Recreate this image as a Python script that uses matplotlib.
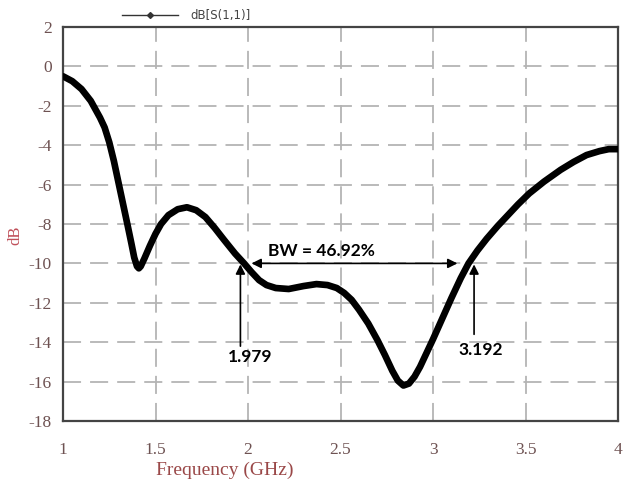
import matplotlib
matplotlib.use("Agg")
import matplotlib.pyplot as plt
from matplotlib.lines import Line2D

plt.rcParams["axes.unicode_minus"] = False

# Data
freq = [1.00, 1.05, 1.10, 1.15, 1.20, 1.225, 1.25, 1.275, 1.30, 1.325, 1.35, 1.37,
        1.385, 1.40, 1.41, 1.42, 1.44, 1.47, 1.50, 1.53, 1.57, 1.62, 1.67, 1.72,
        1.77, 1.82, 1.87, 1.93, 1.979, 2.02, 2.06, 2.10, 2.15, 2.22, 2.30, 2.37,
        2.43, 2.48, 2.52, 2.56, 2.60, 2.65, 2.70, 2.74, 2.78, 2.81, 2.84, 2.87,
        2.90, 2.93, 2.96, 3.00, 3.05, 3.10, 3.15, 3.192, 3.24, 3.29, 3.35, 3.40,
        3.46, 3.52, 3.60, 3.69, 3.76, 3.83, 3.90, 3.95, 4.00]
s11_db = [-0.5, -0.75, -1.15, -1.75, -2.6, -3.1, -3.85, -4.8, -5.9, -7.0, -8.1, -9.0,
          -9.7, -10.15, -10.25, -10.15, -9.75, -9.1, -8.5, -8.0, -7.55, -7.25, -7.15, -7.3,
          -7.65, -8.2, -8.8, -9.5, -10.0, -10.45, -10.85, -11.1, -11.25, -11.3, -11.15, -11.05,
          -11.1, -11.25, -11.5, -11.85, -12.35, -13.05, -13.9, -14.65, -15.45, -15.95, -16.2, -16.1,
          -15.75, -15.25, -14.65, -13.85, -12.8, -11.75, -10.75, -10.0, -9.35, -8.75, -8.1, -7.6,
          -7.0, -6.45, -5.85, -5.25, -4.85, -4.5, -4.3, -4.2, -4.2]

x_ticks = [1, 1.5, 2, 2.5, 3, 3.5, 4]
x_ticklabels = ["1", "1.5", "2", "2.5", "3", "3.5", "4"]
y_ticks = [2, 0, -2, -4, -6, -8, -10, -12, -14, -16, -18]
f_low, f_high = 1.979, 3.192
level = -10
bw_text = "BW = 46.92%"

fig = plt.figure(figsize=(6.24, 4.84), dpi=100)
ax = fig.add_axes([63/624, 1-421/484, (618-63)/624, (421-27)/484])
ax.set_xlim(1, 4)
ax.set_ylim(-18, 2)

grid_kw = dict(color="#b4b4b4", lw=1.3, dashes=(10, 5), zorder=1)
for yv in y_ticks[1:-1]:
    ax.axhline(yv, **grid_kw)
for xv in x_ticks[1:-1]:
    ax.axvline(xv, **grid_kw)

ax.plot(freq, s11_db, color="black", lw=4.8, solid_joinstyle="round",
        solid_capstyle="round", zorder=3)

for sp in ax.spines.values():
    sp.set_color("#444444")
    sp.set_linewidth(1.6)

ax.set_xticks(x_ticks)
ax.set_xticklabels(x_ticklabels)
ax.set_yticks(y_ticks)
ax.tick_params(length=0, pad=8, labelsize=12.5, labelcolor="#6e5252")
for lab in ax.get_xticklabels() + ax.get_yticklabels():
    lab.set_family("Liberation Serif")
ax.tick_params(axis="x", pad=15)

fig.text(225/624, 1-470/484, "Frequency (GHz)", ha="center", va="center",
         family="Liberation Serif", fontsize=14, color="#9a4848")
fig.text(15/624, 1-235/484, "dB", rotation=90, ha="center", va="center",
         family="Liberation Serif", fontsize=12, color="#c0505a")

# annotations
ann_font = dict(family="Lato", fontweight="bold", fontsize=12.5, color="black")
ax.annotate("", xy=(f_low + 0.04, level), xytext=(f_high - 0.06, level),
            arrowprops=dict(arrowstyle="<|-|>", color="black", lw=1.2,
                            mutation_scale=14, shrinkA=0, shrinkB=0), zorder=4)
ax.text(2.11, -9.35, bw_text, ha="left", va="center", **ann_font)
ax.annotate("", xy=(f_low - 0.02, level - 0.05), xytext=(f_low - 0.02, -14.2),
            arrowprops=dict(arrowstyle="-|>", color="black", lw=1.2,
                            mutation_scale=14, shrinkA=0, shrinkB=0), zorder=4)
ax.annotate("", xy=(f_high + 0.03, level - 0.05), xytext=(f_high + 0.03, -13.6),
            arrowprops=dict(arrowstyle="-|>", color="black", lw=1.2,
                            mutation_scale=14, shrinkA=0, shrinkB=0), zorder=4)
ax.text(1.892, -14.75, f"{f_low:.3f}", ha="left", va="center", **ann_font)
ax.text(3.14, -14.38, f"{f_high:.3f}", ha="left", va="center", **ann_font)

# legend-like header above the plot
fig.add_artist(Line2D([122/624, 178/624], [1-15/484, 1-15/484], color="#333333",
                      lw=1.0, transform=fig.transFigure))
fig.add_artist(Line2D([150/624], [1-15/484], color="#333333", marker="D",
                      markersize=3, transform=fig.transFigure))
fig.text(190/624, 1-15/484, "dB[S(1,1)]", ha="left", va="center",
         family="DejaVu Sans", fontsize=8.5, color="#444444")

fig.savefig("out.png", dpi=100)
